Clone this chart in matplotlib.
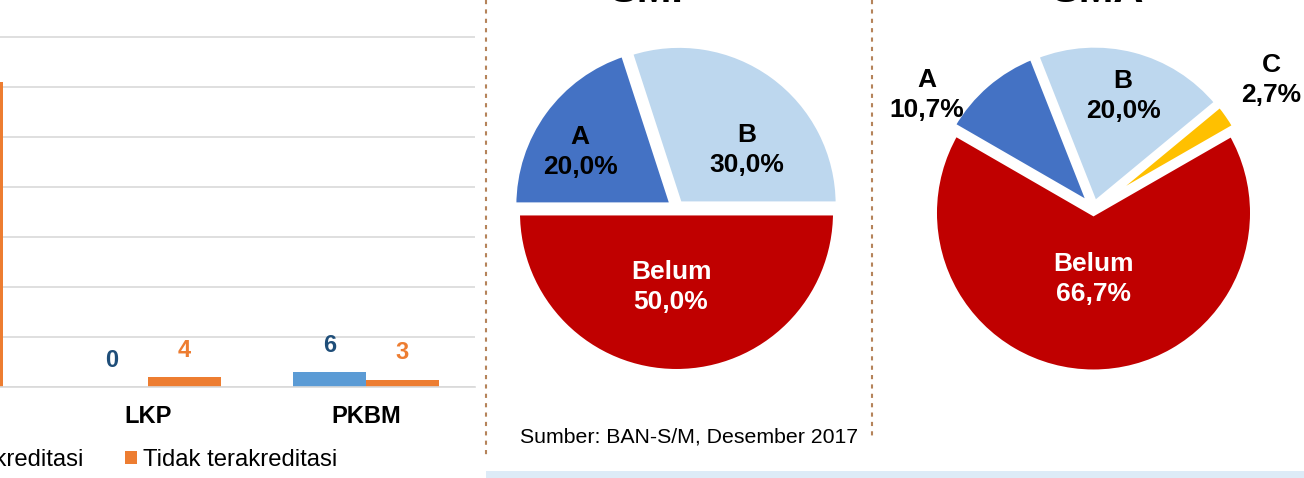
import numpy as np
import matplotlib
matplotlib.use("Agg")
import matplotlib.pyplot as plt
from matplotlib.lines import Line2D
from matplotlib.patches import Rectangle

plt.rcParams['font.family'] = ['Liberation Sans', 'DejaVu Sans']

# bar chart data (first category is cut off on the left of the slide)
categories = ["PAUD", "LKP", "PKBM"]
terakreditasi = [37, 0, 6]
tidak_terakreditasi = [122, 4, 3]
legend_labels = ["Terakreditasi", "Tidak terakreditasi"]

# pie data
pie1_title = "SMP"
pie1_names = ["A", "B", "Belum"]
pie1_values = [20.0, 30.0, 50.0]
pie2_title = "SMA"
pie2_names = ["A", "B", "C", "Belum"]
pie2_values = [10.7, 20.0, 2.7, 66.7]
source = "Sumber: BAN-S/M, Desember 2017"

W, H = 1304, 478
fig = plt.figure(figsize=(W / 100, H / 100), dpi=100)


def px_box(left, top, width, height):
    # pixel box (from top-left) -> figure fraction
    return [left / W, 1 - (top + height) / H, width / W, height / H]


BLUE, ORANGE = "#5B9BD5", "#ED7D31"

# ---- bar chart ----
ax = fig.add_axes(px_box(-179, -13, 654, 400))
x = np.arange(len(categories))
w = 0.335
b1 = ax.bar(x - w / 2, terakreditasi, w, color=BLUE, label=legend_labels[0])
b2 = ax.bar(x + w / 2, tidak_terakreditasi, w, color=ORANGE, label=legend_labels[1])
for bars, vals, col in ((b1, terakreditasi, "#1F4E79"), (b2, tidak_terakreditasi, ORANGE)):
    for r, v in zip(bars, vals):
        ax.annotate(str(v), (r.get_x() + r.get_width() / 2, v), xytext=(0, 11),
                    textcoords="offset points", ha="center", va="bottom",
                    fontsize=17, fontweight="bold", color=col)
ax.set_xlim(-0.5, 2.5)
ax.set_ylim(0, 160)
ax.set_yticks(np.arange(0, 161, 20))
ax.yaxis.grid(True, color="#D9D9D9", lw=1.2)
ax.set_axisbelow(True)
ax.set_xticks(x)
ax.set_xticklabels(categories, fontsize=17, fontweight="bold")
ax.tick_params(axis="x", length=0, pad=13)
ax.tick_params(axis="y", length=0, labelleft=False)
for s in ("top", "left", "right"):
    ax.spines[s].set_visible(False)
ax.spines["bottom"].set_color("#D9D9D9")
ax.spines["bottom"].set_linewidth(1.2)
ax.legend(loc="center", bbox_to_anchor=(134 / W, 1 - 460 / H), bbox_transform=fig.transFigure,
          ncol=2, frameon=False, fontsize=17.2, handlelength=0.5, handleheight=0.5,
          handletextpad=0.26, columnspacing=1.7)

# ---- pies ----
R = 159.5  # px per unit radius


def draw_pie(cx, cy, names, values, colors, start, title, label_pos, title_x):
    pa = fig.add_axes(px_box(cx - 200, cy - 200, 400, 400))
    pa.pie(values, colors=colors, startangle=start, counterclock=False,
           explode=[0.028] * len(values),
           wedgeprops=dict(edgecolor="white", linewidth=4.3))
    L = 200 / R
    pa.set_xlim(-L, L)
    pa.set_ylim(-L, L)
    pa.set_axis_off()
    for n, v, (lx, ly) in zip(names, values, label_pos):
        txt = f"{n}\n{v:.1f}%".replace(".", ",")
        pa.text(lx, ly, txt, ha="center", va="center", fontsize=19, fontweight="bold",
                color="white" if n == "Belum" else "black", linespacing=1.3)
    fig.text(title_x / W, 1 - 1.5 / H, title, ha="center", va="baseline",
             fontsize=30, fontweight="bold")


draw_pie(676.5, 208, pie1_names, pie1_values, ["#4472C4", "#BDD7EE", "#C00000"], 180,
         pie1_title, [(-0.605, 0.351), (0.442, 0.364), (-0.034, -0.495)], 655)
draw_pie(1093.5, 208.5, pie2_names, pie2_values, ["#4472C4", "#BDD7EE", "#FFC000", "#C00000"], 150,
         pie2_title, [(-1.044, 0.712), (0.185, 0.705), (1.113, 0.806), (0.0, -0.442)], 1098)

# ---- decorations ----
fig.text(520 / W, 1 - 437 / H, source, ha="left", va="center", fontsize=15.3)
for xp, ybot in ((486, 455), (872, 440)):
    fig.add_artist(Line2D([xp / W, xp / W], [1, 1 - ybot / H], transform=fig.transFigure,
                          color="#B5835A", lw=1.5, ls=(0, (2, 2.5))))
fig.add_artist(Rectangle((486 / W, 0), (W - 486) / W, 7 / H, transform=fig.transFigure,
                         color="#DDEBF7", lw=0))

fig.savefig("out.png", dpi=100)
